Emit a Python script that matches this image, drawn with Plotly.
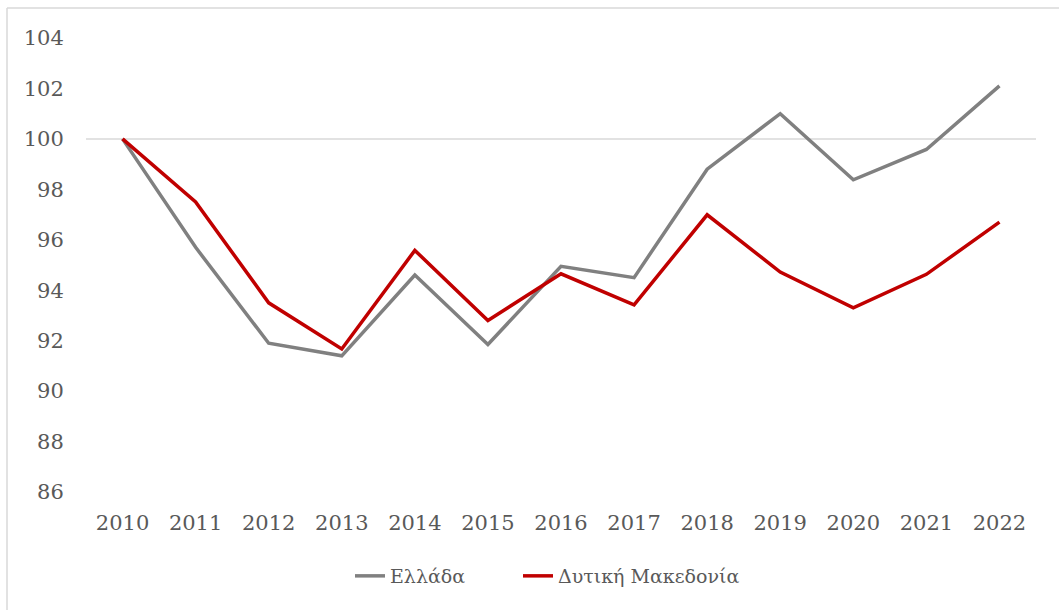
import plotly.graph_objects as go

years = ["2010", "2011", "2012", "2013", "2014", "2015", "2016",
         "2017", "2018", "2019", "2020", "2021", "2022"]
greece = [100.0, 95.7, 91.9, 91.4, 94.6, 91.85, 94.95, 94.5, 98.8, 101.0, 98.38, 99.58, 102.1]
west_macedonia = [100.0, 97.5, 93.5, 91.67, 95.58, 92.8, 94.65, 93.42, 96.99, 94.72, 93.3, 94.63, 96.7]
series_names = ["Ελλάδα", "Δυτική Μακεδονία"]
y_ticks = [86, 88, 90, 92, 94, 96, 98, 100, 102, 104]

FONT = "DejaVu Serif"
TXT = "#595959"

fig = go.Figure()
fig.add_trace(go.Scatter(x=years, y=greece, name=series_names[0], mode="lines",
                         line=dict(color="#808080", width=3.5), legend="legend"))
fig.add_trace(go.Scatter(x=years, y=west_macedonia, name=series_names[1], mode="lines",
                         line=dict(color="#C00000", width=3.5), legend="legend2"))

W, H = 1059, 610
L, R, T, B = 86, 23, 38, 118
pw, ph = W - L - R, H - T - B

def px_x(p):
    return (p - L) / pw

def px_y(p):
    return (H - B - p) / ph

leg_common = dict(orientation="h", xanchor="left", y=px_y(576), yanchor="middle",
                  font=dict(family=FONT, size=19, color=TXT), bgcolor="rgba(0,0,0,0)")

fig.update_layout(
    width=W, height=H,
    margin=dict(l=L, r=R, t=T, b=B),
    paper_bgcolor="white", plot_bgcolor="white",
    font=dict(family=FONT, size=21, color=TXT),
    showlegend=True,
    legend=dict(x=px_x(350), **leg_common),
    legend2=dict(x=px_x(518), **leg_common),
    xaxis=dict(type="category", range=[-0.5, 12.5], showgrid=False, zeroline=False,
               showline=False, ticks="outside", ticklen=12, tickcolor="rgba(0,0,0,0)",
               tickfont=dict(family=FONT, size=21, color=TXT)),
    yaxis=dict(range=[86, 104], tickvals=y_ticks, showgrid=False, zeroline=False,
               showline=False, ticks="outside", ticklen=17, tickcolor="rgba(0,0,0,0)",
               tickfont=dict(family=FONT, size=21, color=TXT)),
    shapes=[
        dict(type="line", xref="paper", yref="y", x0=0, x1=1, y0=100, y1=100,
             line=dict(color="#D9D9D9", width=1.5), layer="below"),
        dict(type="line", xref="paper", yref="paper", x0=px_x(7), x1=px_x(7),
             y0=px_y(8), y1=px_y(H + 5), line=dict(color="#D9D9D9", width=1.5)),
        dict(type="line", xref="paper", yref="paper", x0=px_x(7), x1=px_x(W + 5),
             y0=px_y(8), y1=px_y(8), line=dict(color="#D9D9D9", width=1.5)),
    ],
)

fig.write_html("out.html", config={"displayModeBar": False},
               post_script="document.body.style.margin='0';")
